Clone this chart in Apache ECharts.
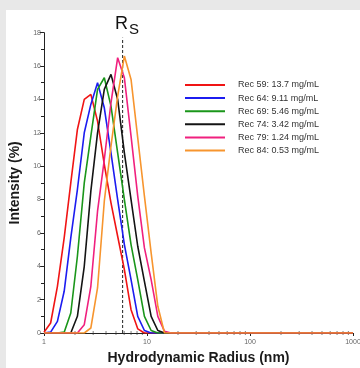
<!DOCTYPE html>
<html>
<head>
<meta charset="utf-8">
<script src="https://cdn.jsdelivr.net/npm/echarts@6/dist/echarts.min.js"></script>
<style>
  html, body { margin: 0; padding: 0; background: #e8e8e8; }
  #chart { width: 360px; height: 368px; }
</style>
</head>
<body>
<div id="chart"></div>
<script>
// ---- data ----
const radius = [1.00, 1.16, 1.35, 1.57, 1.82, 2.11, 2.46, 2.85, 3.31, 3.85, 4.47, 5.19, 6.03, 7.00, 8.13, 9.44, 10.97, 12.74, 14.79, 17.18, 1000];
const rec59 = [0.05, 0.6, 2.8, 5.7, 9.0, 12.2, 14.0, 14.3, 12.7, 10.1, 7.8, 5.8, 3.8, 1.4, 0.25, 0, 0, 0, 0, 0, 0];
const rec64 = [0, 0.05, 0.7, 2.5, 5.7, 8.6, 12.0, 13.7, 15.0, 13.5, 10.8, 8.0, 5.3, 3.2, 1.0, 0.15, 0, 0, 0, 0, 0];
const rec69 = [0, 0, 0, 0.05, 1.2, 4.6, 9.0, 11.8, 14.6, 15.3, 13.6, 10.8, 8.0, 5.3, 3.2, 1.0, 0.15, 0, 0, 0, 0];
const rec74 = [0, 0, 0, 0, 0, 1.0, 4.0, 8.5, 12.0, 14.6, 15.5, 14.0, 10.8, 8.0, 5.2, 3.1, 1.0, 0.15, 0, 0, 0];
const rec79 = [0, 0, 0, 0, 0, 0, 0.5, 2.8, 7.3, 10.4, 13.8, 16.5, 15.3, 11.8, 8.2, 5.1, 3.2, 1.0, 0.1, 0, 0];
const rec84 = [0, 0, 0, 0, 0, 0, 0, 0.3, 2.7, 7.9, 11.2, 14.2, 16.6, 15.2, 11.7, 8.2, 4.8, 1.6, 0, 0, 0];
const seriesNames = ['Rec 59: 13.7 mg/mL', 'Rec 64: 9.11 mg/mL', 'Rec 69: 5.46 mg/mL', 'Rec 74: 3.42 mg/mL', 'Rec 79: 1.24 mg/mL', 'Rec 84: 0.53 mg/mL'];
const seriesColors = ['#f01414', '#1c1cf0', '#1a961a', '#141414', '#f0207e', '#f7952e'];
const rsRadius = 5.8;
const rsTop = 17.7;
const xTickLabels = [1, 10, 100, 1000];
const xMinorTicks = [2, 3, 4, 5, 6, 7, 8, 9, 20, 30, 40, 50, 60, 70, 80, 90, 200, 300, 400, 500, 600, 700, 800, 900];
const yMax = 18;
const yStep = 2;

const allValues = [rec59, rec64, rec69, rec74, rec79, rec84];
const FONT = 'Liberation Sans, Arial, Helvetica, sans-serif';

const chart = echarts.init(document.getElementById('chart'), null, { renderer: 'canvas' });

const lineSeries = allValues.map((vals, i) => ({
  name: seriesNames[i],
  type: 'line',
  data: radius.map((r, j) => [r, vals[j]]),
  showSymbol: false,
  symbol: 'none',
  color: seriesColors[i],
  lineStyle: { width: 1.6, color: seriesColors[i] },
  z: 3 + i,
  silent: true,
  animation: false
}));

const option = {
  animation: false,
  backgroundColor: '#e8e8e8',
  graphic: [
    { type: 'rect', left: 6, top: 10, shape: { width: 354, height: 358 }, style: { fill: '#ffffff' }, z: -10 },
    { type: 'text', x: 115, y: 24, style: { text: 'R', font: '18px ' + FONT, fill: '#111', verticalAlign: 'middle' }, z: 10 },
    { type: 'text', x: 129, y: 30, style: { text: 'S', font: '15px ' + FONT, fill: '#111', verticalAlign: 'middle' }, z: 10 }
  ],
  grid: { left: 44, right: 7, top: 32.7, bottom: 35, containLabel: false, outerBoundsMode: 'none' },
  legend: {
    data: seriesNames,
    orient: 'vertical',
    left: 185,
    top: 79.5,
    padding: 0,
    icon: 'rect',
    itemWidth: 40,
    itemHeight: 2,
    itemGap: 2.1,
    textStyle: { fontFamily: FONT, fontSize: 9, color: '#333', lineHeight: 11, padding: [0, 0, 0, 8] },
    selectedMode: false
  },
  xAxis: {
    type: 'log',
    logBase: 10,
    min: 1,
    max: 1000,
    name: 'Hydrodynamic Radius (nm)',
    nameLocation: 'middle',
    nameGap: 18,
    nameTextStyle: { fontFamily: FONT, fontSize: 14, fontWeight: 'bold', color: '#1a1a1a' },
    axisLine: { lineStyle: { color: '#222', width: 1 } },
    axisTick: { show: true, length: 3, lineStyle: { color: '#222' } },
    axisLabel: {
      fontFamily: FONT, fontSize: 7, color: '#666', margin: 6,
      formatter: v => (xTickLabels.indexOf(Math.round(v)) >= 0 ? String(Math.round(v)) : '')
    },
    splitLine: { show: false }
  },
  yAxis: {
    type: 'value',
    min: 0,
    max: yMax,
    interval: yStep,
    name: 'Intensity (%)',
    nameLocation: 'middle',
    nameGap: 19,
    nameTextStyle: { fontFamily: FONT, fontSize: 14, fontWeight: 'bold', color: '#1a1a1a' },
    axisLine: { show: true, lineStyle: { color: '#222', width: 1 } },
    axisTick: { show: true, length: 4, lineStyle: { color: '#222' } },
    minorTick: { show: true, splitNumber: 2, length: 3, lineStyle: { color: '#222' } },
    axisLabel: { fontFamily: FONT, fontSize: 7, color: '#666', margin: 3 },
    splitLine: { show: false }
  },
  series: [
    {
      name: 'minorTicks',
      type: 'scatter',
      data: xMinorTicks.map(v => [v, 0]),
      symbol: 'rect',
      symbolSize: [0.8, 4],
      itemStyle: { color: '#333' },
      z: 2,
      silent: true
    },
    {
      name: 'Rs',
      type: 'line',
      data: [[rsRadius, 0], [rsRadius, rsTop]],
      showSymbol: false,
      symbol: 'none',
      lineStyle: { color: '#222', width: 1, type: [3, 2] },
      z: 2,
      silent: true
    }
  ].concat(lineSeries)
};

chart.setOption(option);
</script>
</body>
</html>
